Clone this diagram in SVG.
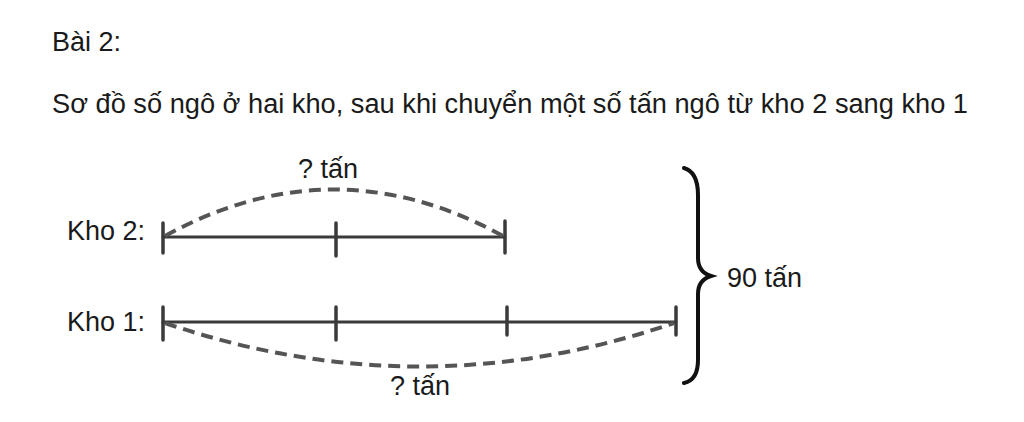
<svg xmlns="http://www.w3.org/2000/svg" width="1024" height="422" viewBox="0 0 1024 422">
<style>
text{font-family:"Liberation Sans",Arial,sans-serif;fill:#1a1a1a;font-size:27px}
.seg{stroke:#3a3a3a;stroke-width:3;fill:none;stroke-linecap:round}
.tick{stroke:#3a3a3a;stroke-width:3.5;stroke-linecap:round}
.dash{stroke:#555;stroke-width:4;fill:none;stroke-dasharray:12 7}
.brace{stroke:#111;stroke-width:4;fill:none;stroke-linecap:round}
</style>
<rect width="1024" height="422" fill="#fff"/>
<g id="title">
<text x="52" y="51">Bài 2:</text>
<text x="52" y="113" textLength="916" lengthAdjust="spacingAndGlyphs">Sơ đồ số ngô ở hai kho, sau khi chuyển một số tấn ngô từ kho 2 sang kho 1</text>
</g>
<g id="kho2">
<text x="67" y="240">Kho 2:</text>
<line class="seg" x1="163" y1="237" x2="505" y2="237"/>
<line class="tick" x1="163" y1="223" x2="163" y2="253"/>
<line class="tick" x1="336" y1="223" x2="336" y2="256"/>
<line class="tick" x1="505" y1="221" x2="505" y2="253"/>
</g>
<g id="kho1">
<text x="67" y="331">Kho 1:</text>
<line class="seg" x1="163" y1="322" x2="676" y2="322"/>
<line class="tick" x1="163" y1="307" x2="163" y2="340"/>
<line class="tick" x1="336" y1="307" x2="336" y2="340"/>
<line class="tick" x1="507" y1="307" x2="507" y2="335"/>
<line class="tick" x1="676" y1="307" x2="676" y2="335"/>
</g>
<g id="connectors">
<path class="dash" d="M165,236 Q334,143 503,236"/>
<path class="dash" d="M165,323 Q420,410 674,323"/>
<path class="brace" d="M684,168 Q698,172 698,195 L698,258 Q698,272 711,276 Q698,280 698,294 L698,360 Q698,380 684,383"/>
</g>
<g id="labels">
<text x="328" y="178" text-anchor="middle">? tấn</text>
<text x="420" y="395" text-anchor="middle">? tấn</text>
<text x="727" y="287">90 tấn</text>
</g>
</svg>
